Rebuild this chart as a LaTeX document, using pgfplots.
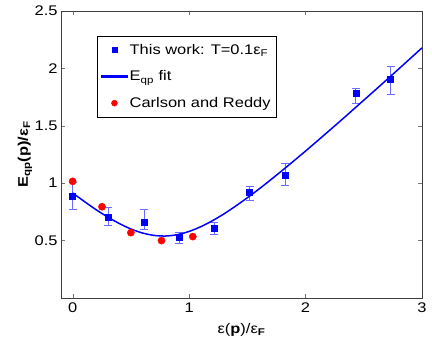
\documentclass[border=0pt]{standalone}
\usepackage{fontspec}
\setmainfont{Liberation Sans}[FakeStretch=1.18]
\usepackage{pgfplots}
\usepackage{pgfplotstable}
\pgfplotsset{compat=1.18}

\definecolor{errblue}{rgb}{0.42,0.42,1}

% this work, T = 0.1 eF (asymmetric error bars)
\pgfplotstableread{
x      y      ep     em
0.000  0.884  0.124  0.110
0.306  0.700  0.086  0.067
0.612  0.656  0.115  0.061
0.912  0.528  0.047  0.051
1.214  0.609  0.050  0.054
1.520  0.921  0.056  0.072
1.823  1.072  0.100  0.087
2.431  1.788  0.035  0.092
2.731  1.904  0.116  0.127
}\thiswork

% fit curve
\pgfplotstableread{
x    y
0.0  0.915
0.1  0.841
0.2  0.770
0.3  0.706
0.4  0.649
0.5  0.601
0.6  0.566
0.7  0.545
0.8  0.540
0.9  0.552
1.0  0.580
1.1  0.621
1.2  0.673
1.3  0.733
1.4  0.801
1.5  0.873
1.6  0.949
1.7  1.029
1.8  1.111
1.9  1.195
2.0  1.280
2.1  1.367
2.2  1.455
2.3  1.543
2.4  1.633
2.5  1.723
2.6  1.813
2.7  1.904
2.8  1.995
2.9  2.087
3.0  2.179
}\fitcurve

% Carlson and Reddy
\pgfplotstableread{
x      y
0.000  1.016
0.252  0.795
0.500  0.569
0.763  0.500
1.032  0.535
}\carlson

\begin{document}
\begin{tikzpicture}
\path[use as bounding box] (-61bp,-56bp) rectangle (371bp,298bp);
\begin{axis}[
    at={(0,0)}, anchor=south west,
    scale only axis, width=361bp, height=287bp,
    xmin=-0.1, xmax=3, ymin=0, ymax=2.5,
    xtick={0,1,2,3}, ytick={0.5,1,1.5,2,2.5},
    tick align=inside, major tick length=4bp,
    axis line style={black!75, line width=0.6bp},
    tick style={black!55},
    /pgf/number format/assume math mode=true,
    ticklabel style={font=\fontsize{14}{16}\selectfont},
    xticklabel style={yshift=-1bp},
    xlabel={ε(\textbf{p})/ε\textsubscript{\textbf{F}}},
    ylabel={\bfseries E\textsubscript{qp}(p)/ε\textsubscript{F}},
    label style={font=\fontsize{14}{16}\selectfont},
    xlabel style={at={(axis description cs:0.5,-0.112)}, anchor=center},
    ylabel style={at={(axis description cs:-0.1,0.5)}, anchor=center},
    legend cell align=left,
    legend style={at={(0.0997,0.913)}, anchor=north west, draw=black,
        font=\fontsize{14}{16}\selectfont, row sep=11bp,
        inner xsep=4bp, inner ysep=6bp},
]
\addplot[only marks, blue, mark=square*, mark size=3bp,
    legend image code/.code={\path plot[blue, mark=square*, mark size=2.5bp]
        coordinates {(12.5bp,0bp)};},
    error bars/.cd, y dir=both, y explicit,
    error bar style={errblue, line width=0.6bp},
    error mark options={errblue, rotate=90, mark size=4bp, line width=0.6bp}]
    table[x=x, y=y, y error plus=ep, y error minus=em] {\thiswork};
\addlegendentry{This work: T=0.1ε\textsubscript{F}}
\addplot[blue, line width=1.5bp, smooth, no marks,
    legend image code/.code={\fill[fill=blue] (0bp,-0.6bp) rectangle (25bp,0.6bp);}]
    table[x=x, y=y] {\fitcurve};
\addlegendentry{E\textsubscript{qp} fit}
\addplot[only marks, red, mark=*, mark size=3.6bp,
    legend image code/.code={\path plot[red, mark=*, mark size=3bp]
        coordinates {(12.5bp,0bp)};}]
    table[x=x, y=y] {\carlson};
\addlegendentry{Carlson and Reddy}
\end{axis}
\end{tikzpicture}
\end{document}
